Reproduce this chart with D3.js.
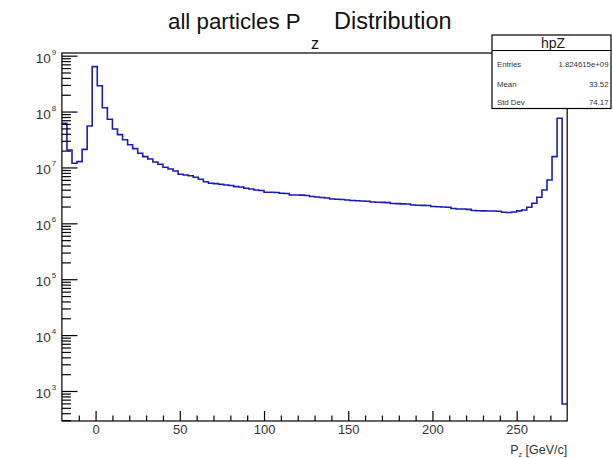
<!DOCTYPE html>
<html>
<head>
<meta charset="utf-8">
<script src="https://cdn.jsdelivr.net/npm/d3@7"></script>
<style>
  html, body { margin: 0; padding: 0; background: #fff; }
  svg { display: block; font-family: "Liberation Sans", Arial, Helvetica, sans-serif; }
</style>
</head>
<body>
<svg id="chart" width="613" height="458"></svg>
<script>
// Histogram hpZ: 100 bins of 3 GeV/c from -20 to 280
const binLow = -20;
const binWidth = 3;
const binCounts = [
  6.17e7, 2.05e7, 1.19e7, 1.27e7, 2.11e7, 5.52e7, 6.36e8, 2.90e8, 1.17e8, 7.27e7,
  4.88e7, 3.86e7, 3.14e7, 2.55e7, 2.17e7, 1.79e7, 1.56e7, 1.42e7, 1.25e7, 1.14e7,
  1.01e7, 9.38e6, 8.64e6, 7.55e6, 7.33e6, 7.10e6, 6.67e6, 6.14e6, 5.56e6, 5.21e6,
  5.14e6, 5.01e6, 4.85e6, 4.75e6, 4.53e6, 4.47e6, 4.24e6, 4.12e6, 3.95e6, 3.87e6,
  3.60e6, 3.60e6, 3.57e6, 3.45e6, 3.42e6, 3.22e6, 3.22e6, 3.20e6, 3.15e6, 3.02e6,
  2.96e6, 2.90e6, 2.84e6, 2.73e6, 2.69e6, 2.67e6, 2.62e6, 2.56e6, 2.54e6, 2.51e6,
  2.49e6, 2.41e6, 2.39e6, 2.37e6, 2.35e6, 2.26e6, 2.25e6, 2.23e6, 2.22e6, 2.13e6,
  2.11e6, 2.10e6, 2.08e6, 2.00e6, 1.98e6, 1.96e6, 1.94e6, 1.84e6, 1.81e6, 1.80e6,
  1.78e6, 1.70e6, 1.68e6, 1.67e6, 1.66e6, 1.66e6, 1.65e6, 1.58e6, 1.56e6, 1.60e6,
  1.67e6, 1.73e6, 1.94e6, 2.29e6, 2.93e6, 3.95e6, 5.97e6, 1.56e7, 7.59e7, 585
];

const xMajorTicks = [0, 50, 100, 150, 200, 250];
const xMinorTicks = [-10, 10, 20, 30, 40, 60, 70, 80, 90, 110, 120, 130, 140,
                     160, 170, 180, 190, 210, 220, 230, 240, 260, 270];
const yDecades = [3, 4, 5, 6, 7, 8, 9];

const titleMain = "all particles P";
const titleSub = "z";
const titleTail = "Distribution";
const xTitleMain = "P";
const xTitleSub = "z";
const xTitleTail = " [GeV/c]";

const statsName = "hpZ";
const statsRows = [
  ["Entries", "1.824615e+09"],
  ["Mean", "33.52"],
  ["Std Dev", "74.17"]
];

// Frame geometry
const frame = { left: 61.9, right: 567.2, top: 53, bottom: 421 };

const svg = d3.select("#chart");

const x = d3.scaleLinear()
  .domain([binLow, binLow + binWidth * binCounts.length])
  .range([frame.left, frame.right]);

const y = d3.scaleLog()
  .domain([Math.pow(10, 2.463), Math.pow(10, 9.048)])
  .range([frame.bottom, frame.top]);

// Histogram outline as a step line
const edges = binCounts.map((_, i) => binLow + i * binWidth);
const stepPts = binCounts.map((c, i) => [edges[i], c]);
stepPts.push([binLow + binWidth * binCounts.length, binCounts[binCounts.length - 1]]);

svg.append("clipPath").attr("id", "frameClip")
  .append("rect")
  .attr("x", frame.left).attr("y", frame.top)
  .attr("width", frame.right - frame.left).attr("height", frame.bottom - frame.top);

svg.append("path")
  .datum(stepPts)
  .attr("clip-path", "url(#frameClip)")
  .attr("fill", "none")
  .attr("stroke", "#1c1cb4")
  .attr("stroke-width", 1.6)
  .attr("d", d3.line()
    .x(d => x(d[0]))
    .y(d => y(d[1]))
    .curve(d3.curveStepAfter));

// Frame box
svg.append("rect")
  .attr("x", frame.left).attr("y", frame.top)
  .attr("width", frame.right - frame.left).attr("height", frame.bottom - frame.top)
  .attr("fill", "none").attr("stroke", "#000").attr("stroke-width", 1.2);

// X axis: ticks point up into the frame
const xAxisMajor = d3.axisBottom(x).tickValues(xMajorTicks).tickSize(-10).tickPadding(6)
  .tickFormat(d3.format("d"));
const xAxisMinor = d3.axisBottom(x).tickValues(xMinorTicks).tickSize(-5.5).tickFormat("");

const gxMinor = svg.append("g").attr("transform", `translate(0,${frame.bottom})`).call(xAxisMinor);
const gx = svg.append("g").attr("transform", `translate(0,${frame.bottom})`).call(xAxisMajor);
[gx, gxMinor].forEach(g => {
  g.select(".domain").remove();
  g.selectAll(".tick line").attr("stroke", "#000").attr("stroke-width", 1.2);
});
gx.selectAll(".tick text")
  .attr("font-size", 13).attr("fill", "#333")
  .attr("font-family", "Liberation Sans, Arial, sans-serif")
  .attr("dy", "0.55em");

// Y axis (log): majors at decades, minors at 2..9 x decade
const yMajorVals = yDecades.map(p => Math.pow(10, p));
const yMinorVals = [];
for (let p = 2; p <= 9; p++) {
  for (let k = 2; k <= 9; k++) {
    const v = k * Math.pow(10, p);
    if (v >= y.domain()[0] && v <= y.domain()[1]) yMinorVals.push(v);
  }
}
const gyMinor = svg.append("g").attr("transform", `translate(${frame.left},0)`)
  .call(d3.axisLeft(y).tickValues(yMinorVals).tickSize(-9).tickFormat(""));
const gy = svg.append("g").attr("transform", `translate(${frame.left},0)`)
  .call(d3.axisLeft(y).tickValues(yMajorVals).tickSize(-15.6).tickFormat(""));
[gy, gyMinor].forEach(g => {
  g.select(".domain").remove();
  g.selectAll(".tick line").attr("stroke", "#000").attr("stroke-width", 1.2);
});

// Decade labels 10^n
const yLabels = svg.append("g").attr("fill", "#333");
yDecades.forEach(p => {
  const yy = y(Math.pow(10, p));
  yLabels.append("text")
    .attr("x", 50.8).attr("y", yy + 7)
    .attr("text-anchor", "end")
    .attr("font-size", 13.5)
    .text("10");
  yLabels.append("text")
    .attr("x", 51.8).attr("y", yy - 1)
    .attr("font-size", 8)
    .text(p);
});

// Title with subscript
const tg = svg.append("g").attr("fill", "#111");
tg.append("text").attr("x", 168).attr("y", 29)
  .attr("font-size", 22.3).text(titleMain);
tg.append("text").attr("x", 311).attr("y", 48.5)
  .attr("font-size", 16).text(titleSub);
tg.append("text").attr("x", 334).attr("y", 29)
  .attr("font-size", 23.5).text(titleTail);

// X axis title, right aligned at the frame edge
const xt = svg.append("text")
  .attr("x", frame.right).attr("y", 454)
  .attr("text-anchor", "end")
  .attr("font-size", 12.5).attr("fill", "#333");
xt.append("tspan").text(xTitleMain);
xt.append("tspan").attr("dy", 2.5).attr("font-size", 7).text(xTitleSub);
xt.append("tspan").attr("dy", -2.5).text(xTitleTail);

// Statistics box
const box = { left: 492, top: 35, right: 611, bottom: 108.5, header: 50.5 };
const sb = svg.append("g");
sb.append("rect")
  .attr("x", box.left).attr("y", box.top)
  .attr("width", box.right - box.left).attr("height", box.bottom - box.top)
  .attr("fill", "#fff").attr("stroke", "#000").attr("stroke-width", 1.2);
sb.append("line")
  .attr("x1", box.left).attr("x2", box.right)
  .attr("y1", box.header).attr("y2", box.header)
  .attr("stroke", "#000").attr("stroke-width", 1);
sb.append("text")
  .attr("x", 553).attr("y", 47.5)
  .attr("text-anchor", "middle").attr("font-size", 14).attr("fill", "#222")
  .text(statsName);
const rowY = [67, 86.5, 104.5];
statsRows.forEach((r, i) => {
  sb.append("text").attr("x", 497).attr("y", rowY[i])
    .attr("font-size", 7.8).attr("fill", "#333").text(r[0]);
  sb.append("text").attr("x", 608.5).attr("y", rowY[i])
    .attr("text-anchor", "end").attr("font-size", 7.8).attr("fill", "#333").text(r[1]);
});
</script>
</body>
</html>
